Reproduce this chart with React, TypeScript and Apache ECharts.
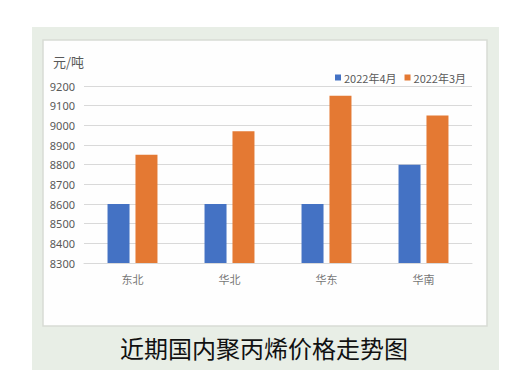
import React, { useEffect, useRef } from "react";
import * as echarts from "echarts";

const categories = ["东北", "华北", "华东", "华南"];
const seriesNames = ["2022年4月", "2022年3月"];
const april = [8600, 8600, 8600, 8800];
const march = [8850, 8970, 9150, 9050];
const yMin = 8300;
const yMax = 9200;
const yStep = 100;
const unitLabel = "元/吨";
const titleText = "近期国内聚丙烯价格走势图";

export default function App() {
  const ref = useRef<HTMLDivElement>(null);
  useEffect(() => {
    if (!ref.current) return;
    const chart = echarts.init(ref.current, undefined, { renderer: "svg" });
    chart.setOption({
      animation: false,
      backgroundColor: "#ffffff",
      graphic: [
        {
          type: "rect",
          z: -10,
          shape: { x: 32, y: 27, width: 467, height: 343 },
          style: { fill: "#e8eee6" },
        },
        {
          type: "rect",
          z: -9,
          shape: { x: 43, y: 40, width: 444, height: 286 },
          style: { fill: "#fefefe", stroke: "#d8dcd5", lineWidth: 1.5 },
        },
        {
          type: "text",
          x: 53,
          y: 61,
          style: {
            text: unitLabel,
            fill: "#595959",
            fontSize: 13,
            fontFamily: "Noto Sans CJK SC",
            verticalAlign: "middle",
          },
        },
        {
          type: "text",
          x: 264,
          y: 347,
          style: {
            text: titleText,
            fill: "#111111",
            fontSize: 24,
            fontWeight: "normal",
            fontFamily: "Noto Sans CJK SC",
            align: "center",
            verticalAlign: "middle",
          },
        },
      ],
      legend: {
        left: 330,
        top: 67,
        itemWidth: 6,
        itemHeight: 6,
        itemGap: 8,
        icon: "rect",
        textStyle: { color: "#595959", fontSize: 11, fontFamily: "Noto Sans CJK SC", padding: [0, 0, 0, -2] },
        data: seriesNames,
      },
      grid: { left: 84, right: 40, top: 86, bottom: 120, containLabel: false },
      xAxis: {
        type: "category",
        data: categories,
        axisLine: { lineStyle: { color: "#d9d9d9", width: 1 } },
        axisTick: { show: false },
        axisLabel: { color: "#767676", fontSize: 11, margin: 10, fontFamily: "Noto Sans CJK SC" },
      },
      yAxis: {
        type: "value",
        min: yMin,
        max: yMax,
        interval: yStep,
        axisLine: { show: false },
        axisTick: { show: false },
        axisLabel: {
          color: "#595959",
          fontSize: 11,
          margin: 9,
          fontFamily: "Noto Sans",
          formatter: (v: number) => String(v),
        },
        splitLine: { lineStyle: { color: "#d9d9d9", width: 1 } },
      },
      series: [
        {
          name: seriesNames[0],
          type: "bar",
          data: april,
          barWidth: 22,
          barGap: "27%",
          itemStyle: { color: "#4472c4" },
        },
        {
          name: seriesNames[1],
          type: "bar",
          data: march,
          barWidth: 22,
          itemStyle: { color: "#e47933" },
        },
      ],
    });
    return () => chart.dispose();
  }, []);
  return (
    <div
      ref={ref}
      style={{ position: "fixed", left: 0, top: 0, width: 512, height: 383 }}
    />
  );
}
